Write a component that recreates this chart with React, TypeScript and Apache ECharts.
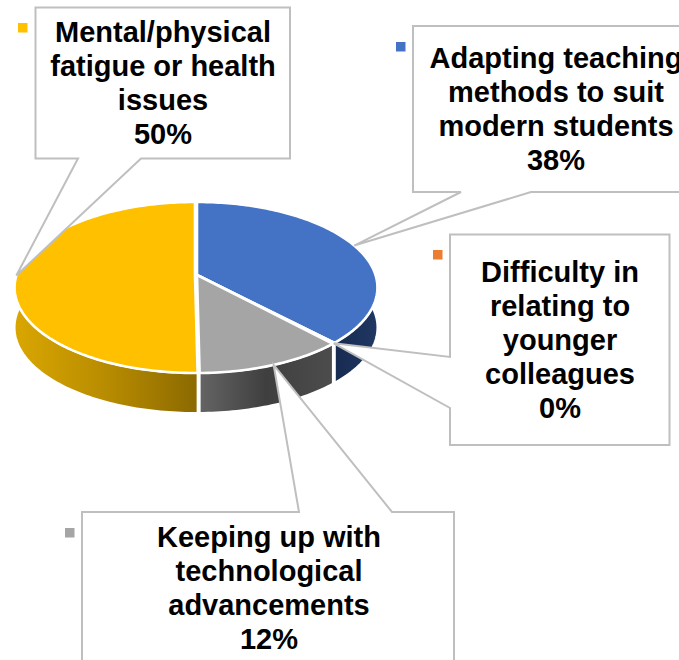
import React, { useEffect, useRef } from "react";
import * as echarts from "echarts";

const categories = [
  "Adapting teaching methods to suit modern students",
  "Difficulty in relating to younger colleagues",
  "Keeping up with technological advancements",
  "Mental/physical fatigue or health issues",
];
const values = [37.9, 0.2, 11.7, 50.2];
const colors = ["#4472C4", "#ED7D31", "#A5A5A5", "#FFC000"];
const labelLines = [
  ["Adapting teaching", "methods to suit", "modern students"],
  ["Difficulty in", "relating to", "younger", "colleagues"],
  ["Keeping up with", "technological", "advancements"],
  ["Mental/physical", "fatigue or health", "issues"],
];

// layout of the perspective disc
const CX = 197, CY = 275, RX = 178.5, RY = 83.7, K = 0.146, DEPTH = 40;
const sliceShift = [0, 0, 0, -2];
const total = values.reduce((a, b) => a + b, 0);
const starts: number[] = [];
values.reduce((acc, v, i) => {
  starts[i] = acc;
  return acc + v;
}, 0);
const angle = (share: number) => (share / total) * Math.PI * 2;
const project = (t: number, shift = 0, r = 1): number[] => {
  const u = Math.sin(t) * r;
  const v = -Math.cos(t) * r;
  const d = 1 - K * v;
  return [CX + shift + (RX * u) / d, CY + (RY * v) / d];
};
const arc = (a: number, b: number, shift: number) => {
  const n = Math.max(2, Math.ceil(Math.abs(b - a) / 0.02));
  const pts: number[][] = [];
  for (let i = 0; i <= n; i++) pts.push(project(a + ((b - a) * i) / n, shift));
  return pts;
};

const sideFills: any[] = [
  { x: 330, x2: 380, stops: ["#17294F", "#203864"] },
  { x: 328, x2: 334, stops: ["#8A4A1C", "#8A4A1C"] },
  { x: 202, x2: 330, stops: ["#636363", "#3F3F3F", "#4C4C4C"] },
  { x: 16, x2: 196, stops: ["#D9A600", "#B88C00", "#8C6A00"] },
];
const gradient = (f: any) => ({
  type: "linear",
  global: true,
  x: f.x,
  y: 0,
  x2: f.x2,
  y2: 0,
  colorStops: f.stops.map((c: string, i: number) => ({ offset: i / (f.stops.length - 1), color: c })),
});

const boxes = [
  { l: 413, t: 26, r: 705, b: 192, edge: "bottom", w0: 461, w1: 531, key: [396, 42], tx: 556, ty: 109 },
  { l: 450, t: 234.5, r: 669.5, b: 445, edge: "left", w0: 357, w1: 408, key: [433, 250], tx: 560, ty: 340 },
  { l: 82, t: 512, r: 454, b: 700, edge: "top", w0: 299, w1: 392, key: [65, 528], tx: 269, ty: 588 },
  { l: 35.5, t: 7.5, r: 290, b: 158.5, edge: "bottom", w0: 78, w1: 141, key: [18, 23], tx: 163, ty: 83 },
];

const boxPoints = (b: any, tip: number[]) => {
  const { l, t, r, b: bt, edge, w0, w1 } = b;
  if (edge === "bottom")
    return [[l, t], [r, t], [r, bt], [w1, bt], tip, [w0, bt], [l, bt]];
  if (edge === "left")
    return [[l, t], [r, t], [r, bt], [l, bt], [l, w1], tip, [l, w0]];
  return [[l, t], [w0, t], tip, [w1, t], [r, t], [r, bt], [l, bt]];
};

const data = values.map((v, i) => ({ name: categories[i], value: v }));

export default function App() {
  const ref = useRef<HTMLDivElement>(null);
  useEffect(() => {
    const chart = echarts.init(ref.current!, null, { renderer: "svg" });
    const sideItem = (p: any) => {
      const i = p.dataIndex;
      const a = Math.max(angle(starts[i]), Math.PI * 0.44);
      const b = Math.min(angle(starts[i] + values[i]), Math.PI * 1.56);
      const top = arc(a, b, sliceShift[i]);
      const bottom = top.map(([x, y]) => [x, y + DEPTH]).reverse();
      return {
        type: "polygon",
        shape: { points: top.concat(bottom) },
        style: { fill: gradient(sideFills[i]), stroke: "#fff", lineWidth: 2 },
      };
    };
    const topItem = (p: any) => {
      const i = p.dataIndex;
      const s = sliceShift[i];
      const pts = arc(angle(starts[i]), angle(starts[i] + values[i]), s);
      pts.push([CX + s, CY]);
      return {
        type: "polygon",
        shape: { points: pts },
        style: { fill: colors[i], stroke: "#fff", lineWidth: 2.6, lineJoin: "round" },
      };
    };
    const calloutItem = (p: any) => {
      const i = p.dataIndex;
      const box = boxes[i];
      const tip = project(angle(starts[i] + values[i] / 2), sliceShift[i]);
      const text = labelLines[i].concat(`${Math.round(values[i])}%`).join("\n");
      return {
        type: "group",
        children: [
          {
            type: "polygon",
            shape: { points: boxPoints(box, tip) },
            style: { fill: "#fff", stroke: "#BFBFBF", lineWidth: 2 },
          },
          {
            type: "rect",
            shape: { x: box.key[0], y: box.key[1], width: 9.5, height: 9.5 },
            style: { fill: colors[i] },
          },
          {
            type: "text",
            x: box.tx,
            y: box.ty,
            style: {
              text,
              fill: "#000",
              font: 'bold 29px "Liberation Sans", Arial, sans-serif',
              lineHeight: 34.2,
              align: "center",
              verticalAlign: "middle",
            },
          },
        ],
      };
    };
    chart.setOption({
      animation: false,
      backgroundColor: "#fff",
      series: [
        { type: "custom", name: "sides", coordinateSystem: "none", data, renderItem: sideItem, clip: false, silent: true },
        { type: "custom", name: "tops", coordinateSystem: "none", data, renderItem: topItem, clip: false, silent: true },
        { type: "custom", name: "callouts", coordinateSystem: "none", data, renderItem: calloutItem, clip: false, silent: true },
      ],
    });
    return () => chart.dispose();
  }, []);
  return <div ref={ref} style={{ position: "absolute", left: 0, top: 0, width: 679, height: 660 }} />;
}
